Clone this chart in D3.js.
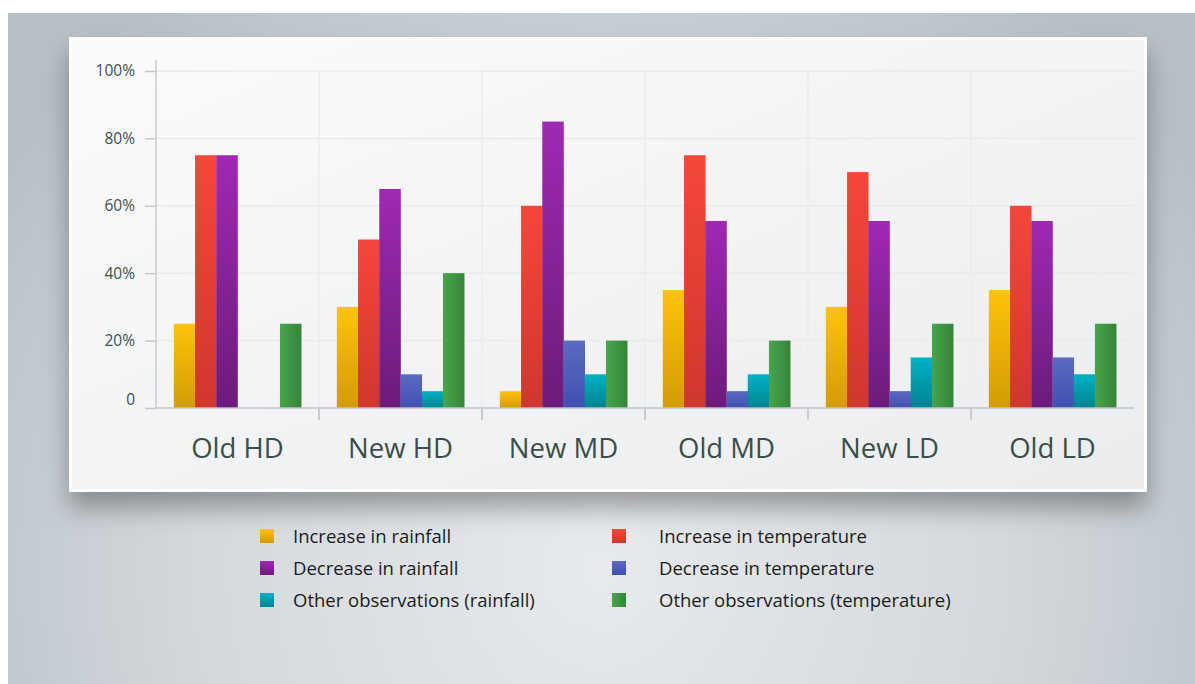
<!DOCTYPE html>
<html>
<head>
<meta charset="utf-8">
<script src="https://cdn.jsdelivr.net/npm/d3@7"></script>
<style>
  html, body { margin: 0; padding: 0; background: #fff; }
  svg { display: block; }
</style>
</head>
<body>
<div id="chart"></div>
<script>
// data
var groups = ['Old HD', 'New HD', 'New MD', 'Old MD', 'New LD', 'Old LD'];
var seriesNames = [
  'Increase in rainfall', 'Increase in temperature', 'Decrease in rainfall',
  'Decrease in temperature', 'Other observations (rainfall)', 'Other observations (temperature)'
];
var increaseRain = [25, 30, 5, 35, 30, 35];
var increaseTemp = [75, 50, 60, 75, 70, 60];
var decreaseRain = [75, 65, 85, 55.5, 55.5, 55.5];
var decreaseTemp = [0, 10, 20, 5, 5, 15];
var otherRain = [0, 5, 10, 10, 15, 10];
var otherTemp = [25, 40, 20, 20, 25, 25];
var yTicks = [0, 20, 40, 60, 80, 100];

var seriesValues = [increaseRain, increaseTemp, decreaseRain, decreaseTemp, otherRain, otherTemp];
// legend goes row by row, two columns
var legendOrder = [0, 1, 2, 3, 4, 5];

var colors = [
  ['#fdc30a', '#d49b06'],
  ['#f6463a', '#cf372f'],
  ['#9f29b3', '#6c1b7a'],
  ['#5a6bc0', '#4150b2'],
  ['#00b2c7', '#00838f'],
  ['#47a64c', '#368339']
];

var W = 1195, H = 684;
var margin = {top: 71, left: 156};
var chartWidth = 978, chartHeight = 337;
var font = '"Open Sans", "Noto Sans", sans-serif';

var svg = d3.select('#chart').append('svg')
  .attr('width', W)
  .attr('height', H);

var defs = svg.append('defs');

var bg = defs.append('radialGradient')
  .attr('id', 'bg')
  .attr('gradientUnits', 'userSpaceOnUse')
  .attr('cx', 600).attr('cy', 570).attr('r', 720);
bg.append('stop').attr('offset', '0').attr('stop-color', '#e8eaec');
bg.append('stop').attr('offset', '0.55').attr('stop-color', '#d4d9dc');
bg.append('stop').attr('offset', '1').attr('stop-color', '#b8c0c7');

var card = defs.append('linearGradient')
  .attr('id', 'card')
  .attr('x1', '0').attr('y1', '0').attr('x2', '1').attr('y2', '1');
card.append('stop').attr('offset', '0').attr('stop-color', '#fbfbfb');
card.append('stop').attr('offset', '1').attr('stop-color', '#eaecee');

var shadow = defs.append('filter')
  .attr('id', 'shadow')
  .attr('x', '-10%').attr('y', '-10%').attr('width', '120%').attr('height', '140%');
shadow.append('feDropShadow')
  .attr('dx', 0).attr('dy', 16)
  .attr('stdDeviation', 13)
  .attr('flood-color', '#000')
  .attr('flood-opacity', 0.33);

colors.forEach(function (c, i) {
  var g = defs.append('linearGradient')
    .attr('id', 'bar' + i)
    .attr('x1', '0').attr('y1', '0');
  if (i === 5) {
    g.attr('x2', '1').attr('y2', '0');
  } else {
    g.attr('x2', '0').attr('y2', '1');
  }
  g.append('stop').attr('offset', '0').attr('stop-color', c[0]);
  g.append('stop').attr('offset', '1').attr('stop-color', c[1]);
});

// background
svg.append('rect')
  .attr('x', 8).attr('y', 13)
  .attr('width', W - 8).attr('height', H - 13)
  .attr('fill', 'url(#bg)');

// card
svg.append('rect')
  .attr('x', 69).attr('y', 37)
  .attr('width', 1078).attr('height', 455)
  .attr('fill', '#fdfdfd')
  .attr('filter', 'url(#shadow)');
svg.append('rect')
  .attr('x', 72).attr('y', 40)
  .attr('width', 1072).attr('height', 449)
  .attr('fill', 'url(#card)');

var chart = svg.append('g')
  .attr('transform', 'translate(' + margin.left + ',' + margin.top + ')');

var x0 = d3.scaleBand()
  .domain(groups)
  .range([0, chartWidth])
  .padding(0);

var x1 = d3.scaleBand()
  .domain(d3.range(seriesNames.length))
  .range([0, x0.bandwidth()])
  .paddingInner(0)
  .paddingOuter(0.84);

var y = d3.scaleLinear()
  .domain([0, 100])
  .range([chartHeight, 0]);

// grid
chart.append('g')
  .selectAll('line')
  .data(yTicks.filter(function (d) { return d > 0; }))
  .join('line')
  .attr('x1', 0).attr('x2', chartWidth)
  .attr('y1', function (d) { return y(d); })
  .attr('y2', function (d) { return y(d); })
  .attr('stroke', '#e9eaeb')
  .attr('stroke-width', 1.5);

chart.append('g')
  .selectAll('line')
  .data(groups.slice(1))
  .join('line')
  .attr('x1', function (d) { return x0(d); })
  .attr('x2', function (d) { return x0(d); })
  .attr('y1', 0).attr('y2', chartHeight)
  .attr('stroke', '#ebecec')
  .attr('stroke-width', 1.5);

// bars
var groupSel = chart.append('g')
  .selectAll('g')
  .data(groups)
  .join('g')
  .attr('transform', function (d) { return 'translate(' + x0(d) + ',0)'; });

groupSel.selectAll('rect')
  .data(function (d, gi) {
    return seriesValues.map(function (vals, si) { return {s: si, v: vals[gi]}; });
  })
  .join('rect')
  .attr('x', function (d) { return x1(d.s); })
  .attr('width', x1.bandwidth() + 0.3)
  .attr('y', function (d) { return y(d.v); })
  .attr('height', function (d) { return chartHeight - y(d.v); })
  .attr('fill', function (d) { return 'url(#bar' + d.s + ')'; });

// y axis
var yAxis = d3.axisLeft(y)
  .tickValues(yTicks)
  .tickSize(11)
  .tickPadding(10)
  .tickFormat(function (d) { return d === 0 ? '0' : d + '%'; });

var yG = chart.append('g').call(yAxis);
yG.select('.domain').remove();
yG.selectAll('.tick line').attr('stroke', '#c4c8cb').attr('stroke-width', 1.5);
yG.selectAll('.tick text')
  .attr('fill', '#3f514c')
  .attr('font-family', font)
  .attr('font-size', 15.5);
yG.selectAll('.tick').filter(function (d) { return d === 0; }).select('text').attr('dy', '-0.2em');

chart.append('line')
  .attr('x1', 0).attr('x2', 0)
  .attr('y1', -11).attr('y2', chartHeight)
  .attr('stroke', '#c8cbce')
  .attr('stroke-width', 1.5);

// x axis
chart.append('line')
  .attr('x1', 0).attr('x2', chartWidth)
  .attr('y1', chartHeight).attr('y2', chartHeight)
  .attr('stroke', '#c2c5c8')
  .attr('stroke-width', 1.5);

chart.append('g')
  .selectAll('line')
  .data(groups.slice(1))
  .join('line')
  .attr('x1', function (d) { return x0(d); })
  .attr('x2', function (d) { return x0(d); })
  .attr('y1', chartHeight).attr('y2', chartHeight + 12)
  .attr('stroke', '#c9cbcd')
  .attr('stroke-width', 2);

chart.append('g')
  .selectAll('text')
  .data(groups)
  .join('text')
  .attr('x', function (d) { return x0(d) + x0.bandwidth() / 2; })
  .attr('y', chartHeight + 50)
  .attr('text-anchor', 'middle')
  .attr('fill', '#3b4e49')
  .attr('font-family', font)
  .attr('font-size', 27.5)
  .text(function (d) { return d; });

// legend
var legend = svg.append('g');
var legendItems = legend.selectAll('g')
  .data(legendOrder)
  .join('g')
  .attr('transform', function (d, i) {
    var col = i % 2, row = Math.floor(i / 2);
    return 'translate(' + (260 + col * 352) + ',' + (536 + row * 32) + ')';
  });

legendItems.append('rect')
  .attr('x', 0).attr('y', -7)
  .attr('width', 14).attr('height', 14)
  .attr('fill', function (d) { return 'url(#bar' + d + ')'; });

legendItems.append('text')
  .attr('x', function (d, i) { return i % 2 ? 47 : 33; })
  .attr('y', 7)
  .attr('fill', '#1c1c1c')
  .attr('font-family', font)
  .attr('font-size', 18.5)
  .text(function (d) { return seriesNames[d]; });
</script>
</body>
</html>
